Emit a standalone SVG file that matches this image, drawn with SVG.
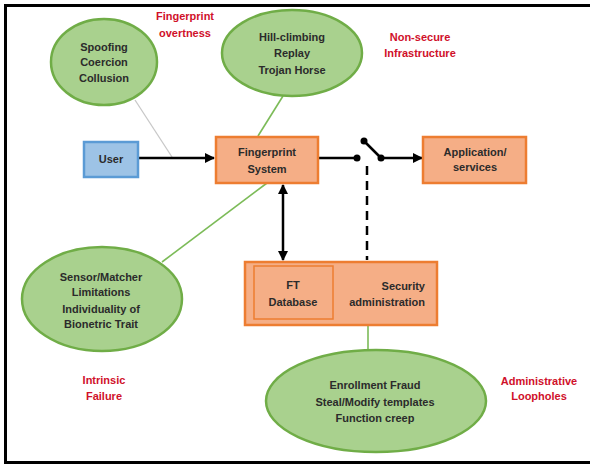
<svg xmlns="http://www.w3.org/2000/svg" width="590" height="465" viewBox="0 0 590 465">
<style>
.t{font-family:"Liberation Sans",Arial,sans-serif;font-weight:bold;font-size:11px;fill:#2b2b2b;text-anchor:middle}
.r{font-family:"Liberation Sans",Arial,sans-serif;font-weight:bold;font-size:11px;fill:#d0102a;text-anchor:middle}
.ell{fill:#a9d18e;stroke:#70ad47;stroke-width:2.5}
.box{fill:#f5ae86;stroke:#ed7d31;stroke-width:2.5}
.blk{stroke:#000;stroke-width:2.5;fill:none}
.grn{stroke:#7cbb58;stroke-width:1.6;fill:none}
</style>
<defs>
<marker id="ah" viewBox="0 0 10 10" refX="9" refY="5" markerWidth="4" markerHeight="4" orient="auto-start-reverse">
<path d="M0,0 L10,5 L0,10 z" fill="#000"/>
</marker>
</defs>
<rect x="0" y="0" width="590" height="465" fill="#fff"/>
<rect x="5.5" y="5.5" width="590" height="457" fill="none" stroke="#000" stroke-width="3"/>

<g id="connectors">
<line x1="135" y1="100" x2="172" y2="157" stroke="#c8c8c8" stroke-width="1.3"/>
<line x1="283" y1="96" x2="258" y2="136" class="grn"/>
<line x1="267" y1="183" x2="162" y2="262" class="grn"/>
<line x1="368" y1="326" x2="368" y2="350" class="grn"/>
<line x1="139" y1="158" x2="214" y2="158" class="blk" marker-end="url(#ah)"/>
<line x1="318" y1="158" x2="357" y2="158" class="blk"/>
<line x1="364" y1="141" x2="381" y2="158" class="blk"/>
<line x1="381" y1="158" x2="422" y2="158" class="blk" marker-end="url(#ah)"/>
<circle cx="357" cy="158" r="3.5" fill="#000"/>
<circle cx="364" cy="141" r="3.5" fill="#000"/>
<circle cx="381" cy="158" r="3.5" fill="#000"/>
<line x1="367" y1="166" x2="367" y2="260" stroke="#000" stroke-width="2.5" stroke-dasharray="9,6"/>
<line x1="283" y1="185" x2="283" y2="260" class="blk" marker-start="url(#ah)" marker-end="url(#ah)"/>
</g>

<g id="spoofing">
<ellipse cx="104" cy="62" rx="53" ry="43" class="ell"/>
<text class="t" x="104" y="51">Spoofing</text>
<text class="t" x="104" y="66">Coercion</text>
<text class="t" x="104" y="82">Collusion</text>
</g>
<g id="hillclimbing">
<ellipse cx="292" cy="53" rx="70" ry="43" class="ell"/>
<text class="t" x="292" y="41">Hill-climbing</text>
<text class="t" x="292" y="57">Replay</text>
<text class="t" x="292" y="74">Trojan Horse</text>
</g>
<g id="sensor">
<ellipse cx="102" cy="299" rx="80" ry="52" class="ell"/>
<text class="t" x="101" y="281">Sensor/Matcher</text>
<text class="t" x="101" y="296">Limitations</text>
<text class="t" x="101" y="313">Individuality of</text>
<text class="t" x="101" y="328">Bionetric Trait</text>
</g>
<g id="enrollment">
<ellipse cx="376" cy="401" rx="110" ry="51" class="ell"/>
<text class="t" x="375" y="389">Enrollment Fraud</text>
<text class="t" x="375" y="406">Steal/Modify templates</text>
<text class="t" x="375" y="422">Function creep</text>
</g>

<g id="user">
<rect x="84" y="142" width="54" height="35" fill="#9dc3e6" stroke="#5b9bd5" stroke-width="2.5"/>
<text class="t" x="111" y="163">User</text>
</g>
<g id="fingerprint-system">
<rect x="216" y="137" width="102" height="46" class="box"/>
<text class="t" x="267" y="156">Fingerprint</text>
<text class="t" x="267" y="173">System</text>
</g>
<g id="application">
<rect x="423" y="137" width="103" height="46" class="box"/>
<text class="t" x="475" y="156">Application/</text>
<text class="t" x="475" y="171">services</text>
</g>
<g id="security">
<rect x="245" y="262" width="192" height="63" class="box"/>
<rect x="254" y="266" width="79" height="53" fill="#f5ae86" stroke="#ed7d31" stroke-width="1.5"/>
<text class="t" x="293" y="289">FT</text>
<text class="t" x="293" y="306">Database</text>
<text class="t" x="425" y="290" style="text-anchor:end">Security</text>
<text class="t" x="425" y="306" style="text-anchor:end">administration</text>
</g>

<g id="labels">
<text class="r" x="185" y="20">Fingerprint</text>
<text class="r" x="185" y="37">overtness</text>
<text class="r" x="420" y="41">Non-secure</text>
<text class="r" x="420" y="57">Infrastructure</text>
<text class="r" x="104" y="384">Intrinsic</text>
<text class="r" x="104" y="400">Failure</text>
<text class="r" x="539" y="385">Administrative</text>
<text class="r" x="539" y="400">Loopholes</text>
</g>
</svg>
